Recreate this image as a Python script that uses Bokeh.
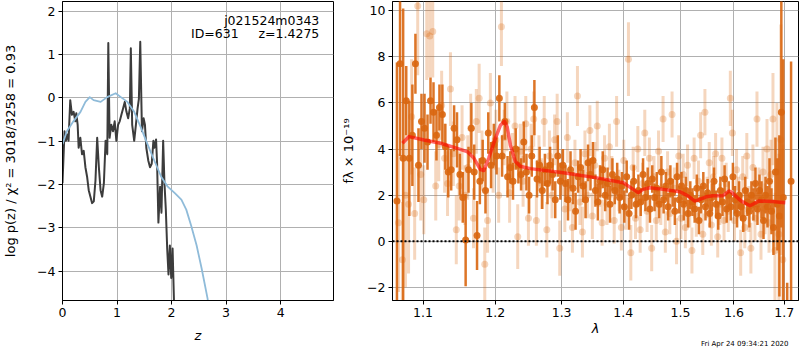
from bokeh.plotting import figure
from bokeh.layouts import row
from bokeh.models import FixedTicker, PrintfTickFormatter, Label, Span, Title
from bokeh.embed import file_html
from bokeh.resources import INLINE

# ---------------- data: left panel (redshift PDF) ----------------
z_chi = [0.000, 0.037, 0.062, 0.080, 0.111, 0.142, 0.173, 0.204, 0.235, 0.253,
         0.278, 0.296, 0.327, 0.358, 0.389, 0.420, 0.451, 0.481, 0.512, 0.543,
         0.574, 0.605, 0.636, 0.667, 0.698, 0.728, 0.759, 0.790, 0.821, 0.840,
         0.864, 0.895, 0.926, 0.957, 0.988, 1.019, 1.049, 1.080, 1.111, 1.142,
         1.173, 1.204, 1.235, 1.253, 1.278, 1.315, 1.346, 1.377, 1.401, 1.426,
         1.457, 1.488, 1.512, 1.537, 1.574, 1.605, 1.636, 1.667, 1.685, 1.716,
         1.735, 1.759, 1.790, 1.815, 1.846, 1.870, 1.895, 1.920, 1.944, 1.969,
         1.994, 2.019, 2.043, 2.060]
logp_chi = [-1.97, -0.77, -0.99, -0.84, -0.99, -0.05, -0.39, -0.32, -0.54, -0.35,
            -0.62, -1.15, -0.92, -1.30, -1.22, -1.60, -1.82, -2.13, -2.28, -2.43,
            -2.39, -1.90, -0.92, -1.60, -2.13, -2.28, -1.97, -0.99, -1.30, 1.27,
            -0.92, -0.62, -0.77, -0.54, -0.99, -0.62, -0.54, -0.39, -0.24, -0.09,
            -0.32, -0.47, -0.24, 1.15, -0.62, -0.99, -0.62, -0.24, -0.02, 1.30,
            -0.77, -0.47, -0.62, -1.15, -1.45, -1.60, -1.52, -0.99, -1.15, -0.96,
            -1.52, -2.88, -2.05, -2.65, -0.99, -1.97, -2.58, -3.48, -4.08, -3.41,
            -4.16, -3.48, -4.63, -6.00]

z_prior = [0.00, 0.08, 0.20, 0.33, 0.42, 0.50, 0.57, 0.70, 0.82, 0.975,
           1.07, 1.19, 1.315, 1.44, 1.56, 1.685, 1.81, 1.93, 2.06, 2.18,
           2.27, 2.36, 2.46, 2.55, 2.61, 2.66, 2.70]
logp_prior = [-1.07, -0.77, -0.54, -0.32, -0.09, 0.02, -0.05, -0.09, 0.02, 0.11,
              0.02, -0.09, -0.32, -0.69, -1.07, -1.45, -1.82, -2.05, -2.20, -2.35,
              -2.58, -2.95, -3.41, -3.93, -4.31, -4.63, -5.00]

z_ticks = [0, 1, 2, 3, 4]
logp_ticks = [-4, -3, -2, -1, 0, 1, 2]

# ---------------- data: right panel (spectrum) ----------------
dark_wave = [1.066, 1.070, 1.074, 1.078, 1.082, 1.086, 1.090, 1.094, 1.098, 1.102,
             1.106, 1.110, 1.114, 1.118, 1.122, 1.126, 1.130, 1.134, 1.138, 1.142,
             1.146, 1.150, 1.154, 1.158, 1.162, 1.166, 1.170, 1.174, 1.178, 1.182,
             1.186, 1.190, 1.194, 1.198, 1.202, 1.206, 1.210, 1.214, 1.218, 1.222,
             1.226, 1.230, 1.234, 1.238, 1.242, 1.246, 1.250, 1.254, 1.258, 1.262,
             1.266, 1.270, 1.274, 1.278, 1.282, 1.286, 1.290, 1.294, 1.298, 1.302,
             1.306, 1.310, 1.314, 1.318, 1.322, 1.326, 1.330, 1.334, 1.338, 1.342,
             1.346, 1.350, 1.354, 1.358, 1.362, 1.366, 1.370, 1.374, 1.378, 1.382,
             1.386, 1.390, 1.394, 1.398, 1.402, 1.406, 1.410, 1.414, 1.418, 1.422,
             1.426, 1.430, 1.434, 1.438, 1.442, 1.446, 1.450, 1.454, 1.458, 1.462,
             1.466, 1.470, 1.474, 1.478, 1.482, 1.486, 1.490, 1.494, 1.498, 1.502,
             1.506, 1.510, 1.514, 1.518, 1.522, 1.526, 1.530, 1.534, 1.538, 1.542,
             1.546, 1.550, 1.554, 1.558, 1.562, 1.566, 1.570, 1.574, 1.578, 1.582,
             1.586, 1.590, 1.594, 1.598, 1.602, 1.606, 1.610, 1.614, 1.618, 1.622,
             1.626, 1.630, 1.634, 1.638, 1.642, 1.646, 1.650, 1.654, 1.658, 1.662,
             1.666, 1.670, 1.674, 1.678, 1.682, 1.686, 1.690, 1.694, 1.698, 1.706,
             1.714]
dark_flux = [1.75, 7.7, 3.6, 6.1, 3.6, 4.6, 7.7, 3.3, 5.2, 4.9,
             4.3, 6.1, 5.6, 4.6, 5.8, 5.5, 4.1, 3.0, 3.1, 4.9,
             4.4, 2.9, 1.9, 0.05, 3.1, 4.9, 3.0, 0.25, 2.6, 3.5,
             2.2, 4.7, 3.3, 4.2, 3.7, 6.2, 3.7, 5.2, 2.8, 3.2,
             2.6, 4.0, 3.3, 2.9, 4.3, 3.0, 2.0, 3.7, 5.8, 2.7,
             3.3, 2.2, 3.1, 2.5, 3.3, 2.9, 1.8, 3.7, 2.6, 3.3,
             2.5, 1.8, 3.1, 2.3, 1.3, 2.8, 3.2, 2.4, 1.8, 3.4,
             2.9, 3.5, 2.2, 1.7, 2.6, 3.1, 2.0, 2.5, 1.6, 2.9,
             2.2, 2.7, 1.9, 2.4, 1.5, 2.8, 1.2, 2.0, 2.6, 1.6,
             2.2, 1.7, 2.9, 1.9, 2.5, 1.4, 2.7, 1.9, 2.3, 1.6,
             3.0, 1.8, 2.4, 1.5, 2.6, 2.1, 1.3, 2.8, 1.8, 2.4,
             1.6, 2.2, 1.2, 2.0, 1.7, 1.4, 2.3, 0.9, 1.8, 2.4,
             1.5, 2.1, 1.2, 1.9, 2.6, 1.6, 1.1, 2.2, 1.7, 2.7,
             1.4, 2.0, 1.5, 2.8, 1.8, 1.2, 2.0, 1.5, 1.0, 2.2,
             1.7, 1.3, 2.0, 1.6, 2.5, 1.4, 2.2, 1.8, 0.9, 2.0,
             1.5, 2.6, 1.3, 0.6, 3.0, 1.6, 1.1, 5.6, 1.9, -3.5,
             2.6]
dark_err = [6.0, 4.0, 6.5, 1.5, 2.5, 2.2, 1.3, 1.6, 1.2, 1.5,
            1.2, 1.0, 1.3, 1.1, 1.0, 1.3, 1.0, 1.1, 0.9, 1.0,
            1.2, 0.9, 1.1, 2.0, 1.0, 1.1, 1.2, 1.5, 1.0, 0.9,
            1.0, 0.9, 1.0, 0.9, 0.8, 1.0, 0.9, 0.8, 0.9, 0.7,
            0.8, 0.9, 0.8, 0.7, 0.9, 0.8, 0.8, 0.9, 1.2, 0.8,
            0.8, 0.8, 0.7, 0.9, 0.8, 0.7, 0.8, 0.9, 0.8, 0.7,
            0.8, 0.9, 0.8, 0.7, 0.8, 0.7, 0.8, 0.7, 0.8, 0.8,
            0.7, 0.8, 0.7, 0.8, 0.7, 0.8, 0.7, 0.7, 0.8, 0.7,
            0.6, 0.7, 0.7, 0.6, 0.7, 0.7, 0.7, 0.6, 0.7, 0.6,
            0.7, 0.6, 0.7, 0.6, 0.7, 0.6, 0.6, 0.6, 0.7, 0.6,
            0.7, 0.6, 0.6, 0.6, 0.7, 0.6, 0.6, 0.6, 0.6, 0.6,
            0.7, 0.6, 0.6, 0.6, 0.6, 0.6, 0.6, 0.6, 0.6, 0.6,
            0.6, 0.6, 0.6, 0.6, 0.6, 0.6, 0.6, 0.6, 0.6, 0.6,
            0.6, 0.6, 0.6, 0.6, 0.6, 0.6, 0.6, 0.6, 0.6, 0.6,
            0.6, 0.7, 0.6, 0.7, 0.7, 0.7, 0.7, 0.8, 0.8, 0.8,
            0.9, 1.0, 1.0, 1.2, 1.5, 2.0, 3.5, 5.0, 6.0, 1.7,
            5.2]

light_wave = [1.068, 1.073, 1.077, 1.081, 1.085, 1.089, 1.093, 1.097, 1.101, 1.105,
              1.109, 1.113, 1.117, 1.121, 1.125, 1.129, 1.133, 1.137, 1.141, 1.145,
              1.149, 1.153, 1.157, 1.161, 1.165, 1.169, 1.173, 1.177, 1.181, 1.185,
              1.189, 1.193, 1.197, 1.201, 1.205, 1.209, 1.213, 1.217, 1.221, 1.225,
              1.229, 1.233, 1.237, 1.241, 1.245, 1.249, 1.253, 1.257, 1.261, 1.265,
              1.269, 1.273, 1.277, 1.281, 1.285, 1.289, 1.293, 1.297, 1.301, 1.305,
              1.309, 1.313, 1.317, 1.321, 1.325, 1.329, 1.333, 1.337, 1.341, 1.345,
              1.349, 1.353, 1.357, 1.361, 1.365, 1.369, 1.373, 1.377, 1.381, 1.385,
              1.389, 1.393, 1.397, 1.401, 1.405, 1.409, 1.413, 1.417, 1.421, 1.425,
              1.429, 1.433, 1.437, 1.441, 1.445, 1.449, 1.453, 1.457, 1.461, 1.465,
              1.469, 1.473, 1.477, 1.481, 1.485, 1.489, 1.493, 1.497, 1.501, 1.505,
              1.509, 1.513, 1.517, 1.521, 1.525, 1.529, 1.533, 1.537, 1.541, 1.545,
              1.549, 1.553, 1.557, 1.561, 1.565, 1.569, 1.573, 1.577, 1.581, 1.585,
              1.589, 1.593, 1.597, 1.601, 1.605, 1.609, 1.613, 1.617, 1.621, 1.625,
              1.629, 1.633, 1.637, 1.641, 1.645, 1.649, 1.653, 1.657, 1.661, 1.665,
              1.669, 1.673, 1.677, 1.681, 1.685, 1.689, 1.693, 1.697]
light_flux = [0.8, -0.8, 2.0, 1.6, 5.4, 1.2, 10.2, 2.9, 1.8, 9.0,
              8.9, 9.1, 2.4, 4.2, 5.9, 3.6, 2.5, 6.6, 3.8, 0.5,
              2.4, 4.5, 2.0, 3.2, 4.9, 1.0, 5.2, 6.2, 3.5, -1.0,
              0.9, 6.0, 3.3, 4.4, 2.0, 9.3, 4.5, 5.2, 2.1, 3.5,
              5.0, 0.2, 3.9, 2.6, 5.1, 1.0, 4.0, 5.3, 0.9, 3.4,
              2.5, 5.2, 0.5, 3.7, 2.0, 4.4, 5.2, -0.3, 3.0, 1.4,
              4.5, 2.3, 0.6, 3.4, 6.3, 1.7, 0.4, 3.8, 2.0, 4.8,
              1.1, 3.3, 5.0, 2.4, 0.8, 3.6, 1.6, 4.1, 2.8, 0.9,
              5.2, 2.2, 0.6, 3.5, 1.4, 7.9, -0.5, 3.2, 1.0, 4.0,
              0.5, 2.5, 4.7, 1.3, 3.6, -0.3, 2.8, 0.9, 3.9, 1.6,
              5.3, 0.4, 3.0, 1.2, 5.5, 2.3, 0.0, 3.7, 1.0, 2.9,
              0.6, 3.3, 1.5, -0.4, 3.6, 1.1, 2.6, 4.6, 0.3, 5.6,
              1.9, 3.4, 0.7, 2.8, 3.8, 0.2, 1.6, 3.6, 0.9, 2.5,
              1.3, 6.2, 4.7, 0.9, 3.1, 1.9, -0.5, 2.8, 0.6, 3.7,
              1.4, -0.3, 3.2, 1.0, 5.3, 2.2, 0.3, 3.0, 1.4, 4.0,
              0.8, 2.9, 5.3, -0.4, 3.0, 0.3, 4.4, -0.8]
light_err = [3.0, 2.5, 4.0, 3.0, 2.5, 2.0, 3.0, 2.0, 1.5, 2.0,
             1.8, 2.0, 1.5, 1.6, 1.5, 1.5, 1.4, 1.6, 1.4, 1.5,
             1.5, 1.4, 1.3, 1.4, 1.5, 1.3, 1.4, 1.5, 1.3, 1.6,
             1.4, 1.3, 1.2, 1.3, 1.2, 1.7, 1.2, 1.3, 1.3, 1.2,
             1.3, 1.4, 1.2, 1.1, 1.2, 1.2, 1.1, 1.2, 1.1, 1.2,
             1.1, 1.1, 1.2, 1.1, 1.0, 1.1, 1.2, 1.2, 1.0, 1.0,
             1.1, 1.0, 1.1, 1.0, 1.3, 1.0, 1.1, 1.0, 1.0, 1.1,
             1.0, 1.0, 1.1, 0.9, 1.0, 1.0, 0.9, 1.0, 0.9, 1.0,
             1.1, 0.9, 1.0, 0.9, 0.9, 1.6, 1.2, 0.9, 0.9, 1.0,
             1.0, 0.9, 1.0, 0.9, 0.9, 1.0, 0.9, 0.9, 0.9, 0.9,
             1.0, 0.9, 0.9, 0.9, 1.0, 0.9, 1.0, 0.9, 0.9, 0.9,
             0.9, 0.9, 0.9, 1.0, 0.9, 0.9, 0.9, 1.0, 0.9, 1.0,
             0.9, 0.9, 0.9, 0.9, 0.9, 0.9, 0.9, 0.9, 0.9, 0.9,
             0.9, 1.2, 1.0, 0.9, 0.9, 0.9, 1.0, 0.9, 0.9, 1.0,
             1.0, 1.1, 1.0, 1.0, 1.2, 1.0, 1.1, 1.1, 1.1, 1.3,
             1.3, 1.5, 2.0, 2.5, 3.0, 3.5, 5.0, 5.0]

model_wave = [1.0731, 1.0816, 1.1013, 1.1236, 1.1464, 1.1601, 1.1694, 1.1789, 1.1836, 1.1907,
              1.2003, 1.2075, 1.2134, 1.2173, 1.2221, 1.2293, 1.2367, 1.2518, 1.3027, 1.3562,
              1.4003, 1.4171, 1.4256, 1.4342, 1.4459, 1.4690, 1.4993, 1.5136, 1.5257, 1.5320,
              1.5474, 1.5596, 1.5784, 1.5908, 1.5960, 1.6135, 1.6311, 1.6494, 1.6760, 1.7022]
model_flux = [4.25, 4.54, 4.39, 4.25, 4.03, 3.89, 3.61, 3.11, 3.07, 3.61,
              4.46, 5.03, 5.20, 4.97, 4.18, 3.47, 3.25, 3.15, 2.97, 2.75,
              2.54, 2.25, 2.11, 2.25, 2.32, 2.25, 2.15, 1.97, 1.75, 1.78,
              1.93, 1.97, 1.97, 2.18, 2.11, 1.75, 1.54, 1.75, 1.72, 1.67]

wave_ticks = [1.1, 1.2, 1.3, 1.4, 1.5, 1.6, 1.7]
flux_ticks = [-2, 0, 2, 4, 6, 8, 10]

FONT = "DejaVu Sans"
ORANGE = "#d9660f"


def minus(v):
    s = ("%g" % v)
    return s.replace("-", "\u2212")


def style(p):
    p.outline_line_color = "black"
    p.outline_line_alpha = 1.0
    p.outline_line_width = 1
    p.background_fill_color = "white"
    p.border_fill_color = "white"
    for ax in p.axis:
        ax.axis_line_color = "black"
        ax.major_tick_line_color = "black"
        ax.major_tick_in = 0
        ax.major_tick_out = 4
        ax.minor_tick_line_color = None
        ax.major_label_text_font = FONT
        ax.major_label_text_font_size = "12.5px"
        ax.major_label_text_color = "black"
        ax.major_label_standoff = 3
        ax.axis_label_text_font = FONT
        ax.axis_label_text_font_size = "13px"
        ax.axis_label_text_color = "black"
        ax.axis_label_standoff = 6
    p.grid.grid_line_color = "#b0b0b0"
    p.grid.grid_line_width = 1


# ---------------- left figure ----------------
p1 = figure(width=334, height=350, x_range=(0, 4.97), y_range=(-4.68, 2.23),
            output_backend="svg", toolbar_location=None,
            min_border_left=62, min_border_right=1, min_border_top=1, min_border_bottom=50)
style(p1)
p1.xaxis.ticker = FixedTicker(ticks=z_ticks)
p1.yaxis.ticker = FixedTicker(ticks=logp_ticks)
p1.yaxis.major_label_overrides = {t: minus(t) for t in logp_ticks}
p1.xaxis.axis_label = "z"
p1.xaxis.axis_label_text_font_style = "italic"
p1.xaxis.axis_label_standoff = 8
p1.yaxis.axis_label = "log p(z) / \u03c7\u00b2 = 3018/3258 = 0.93"
p1.yaxis.axis_label_text_font_style = "normal"
p1.yaxis.axis_label_standoff = 16

p1.line(z_chi, logp_chi, line_color="#3c3c3c", line_width=2, line_join="round")
p1.line(z_prior, logp_prior, line_color="#8fbbd9", line_width=1.8, line_join="round")

p1.add_layout(Label(x=4.71, y=1.80, text="j021524m0343", text_align="right",
                    text_baseline="middle", text_font=FONT, text_font_size="12.5px",
                    text_color="black"))
p1.add_layout(Label(x=4.71, y=1.48, text="ID=631\u00a0\u00a0\u00a0\u00a0\u00a0z=1.4275",
                    text_align="right", text_baseline="middle", text_font=FONT,
                    text_font_size="12.5px", text_color="black"))

# ---------------- right figure ----------------
p2 = figure(width=466, height=350, x_axis_type="log", x_range=(1.0603, 1.7294),
            y_range=(-2.57, 10.4), output_backend="svg", toolbar_location=None,
            min_border_left=58, min_border_right=2, min_border_top=1, min_border_bottom=50)
style(p2)
p2.xaxis.ticker = FixedTicker(ticks=wave_ticks)
p2.xaxis.formatter = PrintfTickFormatter(format="%.1f")
p2.yaxis.ticker = FixedTicker(ticks=flux_ticks)
p2.yaxis.major_label_overrides = {t: minus(t) for t in flux_ticks}
p2.xaxis.axis_label = "\u03bb"
p2.xaxis.axis_label_text_font_style = "italic"
p2.xaxis.axis_label_standoff = 1
p2.yaxis.axis_label = "f\u03bb \u00d7 10\u207b\u00b9\u2079"
p2.yaxis.axis_label_text_font_style = "normal"
p2.yaxis.axis_label_standoff = 8

light_lo = [f - e for f, e in zip(light_flux, light_err)]
light_hi = [f + e for f, e in zip(light_flux, light_err)]
dark_lo = [f - e for f, e in zip(dark_flux, dark_err)]
dark_hi = [f + e for f, e in zip(dark_flux, dark_err)]

p2.segment(x0=light_wave, y0=light_lo, x1=light_wave, y1=light_hi,
           line_color=ORANGE, line_alpha=0.27, line_width=3)
p2.scatter(light_wave, light_flux, size=7, fill_color=ORANGE, fill_alpha=0.27,
           line_color=None)
p2.segment(x0=dark_wave, y0=dark_lo, x1=dark_wave, y1=dark_hi,
           line_color=ORANGE, line_alpha=0.9, line_width=2.5)
p2.scatter(dark_wave, dark_flux, size=7, fill_color=ORANGE, fill_alpha=0.9,
           line_color=None)
p2.line(model_wave, model_flux, line_color="red", line_alpha=0.6, line_width=3.5,
        line_join="round")
p2.add_layout(Span(location=0, dimension="width", line_color="black",
                   line_dash="2 2", line_width=2))

stamp = Title(text="Fri Apr 24 09:34:21 2020", align="right", offset=10, standoff=0,
              vertical_align="middle",
              text_font=FONT, text_font_size="7px", text_font_style="normal",
              text_color="black")
p2.add_layout(stamp, "below")

layout = row(p1, p2)
open("out.html", "w").write(file_html(layout, INLINE))
